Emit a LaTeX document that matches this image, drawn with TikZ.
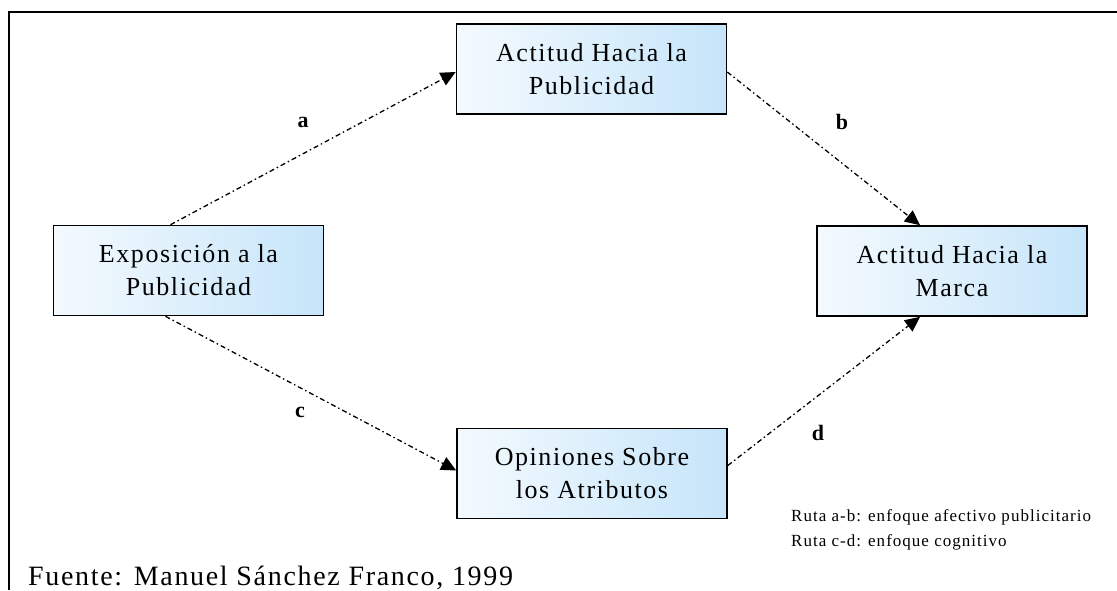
\documentclass[tikz,border=0pt]{standalone}
\usepackage{fontspec}
\setmainfont{Liberation Serif}
\newfontfamily\widefont[LetterSpace=6]{Liberation Serif}
\usetikzlibrary{arrows.meta,calc}
\definecolor{boxA}{HTML}{F4FAFE}
\definecolor{boxB}{HTML}{C6E5FA}
\tikzset{
  concept/.style={draw=black, line width=1.6pt, left color=boxA, right color=boxB,
    minimum width=270pt, minimum height=90pt, align=center, inner sep=0pt,
    font=\widefont\fontsize{26}{33}\selectfont},
  link/.style={line width=1.3pt, dash pattern=on 5pt off 3pt on 1.5pt off 3pt,
    -{Triangle[length=15pt,width=14pt]}},
  lbl/.style={font=\bfseries\fontsize{22}{24}\selectfont, inner sep=0pt}
}
\begin{document}
\begin{tikzpicture}[x=1pt,y=-1pt]
\useasboundingbox (0,0) rectangle (1117,590);
\draw[line width=2pt] (9,590) -- (9,12) -- (1117,12);

\node[concept] (top) at (591.5,69) {Actitud Hacia la\\Publicidad};
\node[concept] (left) at (188.5,270.5) {Exposición a la\\Publicidad};
\node[concept] (right) at (952,271) {Actitud Hacia la\\Marca};
\node[concept] (bot) at (592,473.5) {Opiniones Sobre\\los Atributos};

\draw[link] ([xshift=-18pt]left.north) -- ([yshift=-3pt]top.west);
\draw[link] ([yshift=-3pt]top.east) -- ([xshift=-32pt]right.north);
\draw[link] ([xshift=-23pt]left.south) -- ([yshift=3pt]bot.west);
\draw[link] ([yshift=8pt]bot.east) -- ([xshift=-32pt]right.south);

\node[lbl] (la) at (303,122) {a};
\node[lbl] (lb) at (842,122) {b};
\node[lbl] (lc) at (300,412) {c};
\node[lbl] (ld) at (818,433) {d};

\node[anchor=north west, align=left, inner sep=0pt, font=\widefont\fontsize{17}{25}\selectfont] (legend) at (791,509)
  {Ruta a-b: enfoque afectivo publicitario\\Ruta c-d: enfoque cognitivo};
\node[anchor=base west, inner sep=0pt, font=\widefont\fontsize{28}{30}\selectfont] (src) at (28,585)
  {Fuente: Manuel Sánchez Franco, 1999};
\end{tikzpicture}
\end{document}
